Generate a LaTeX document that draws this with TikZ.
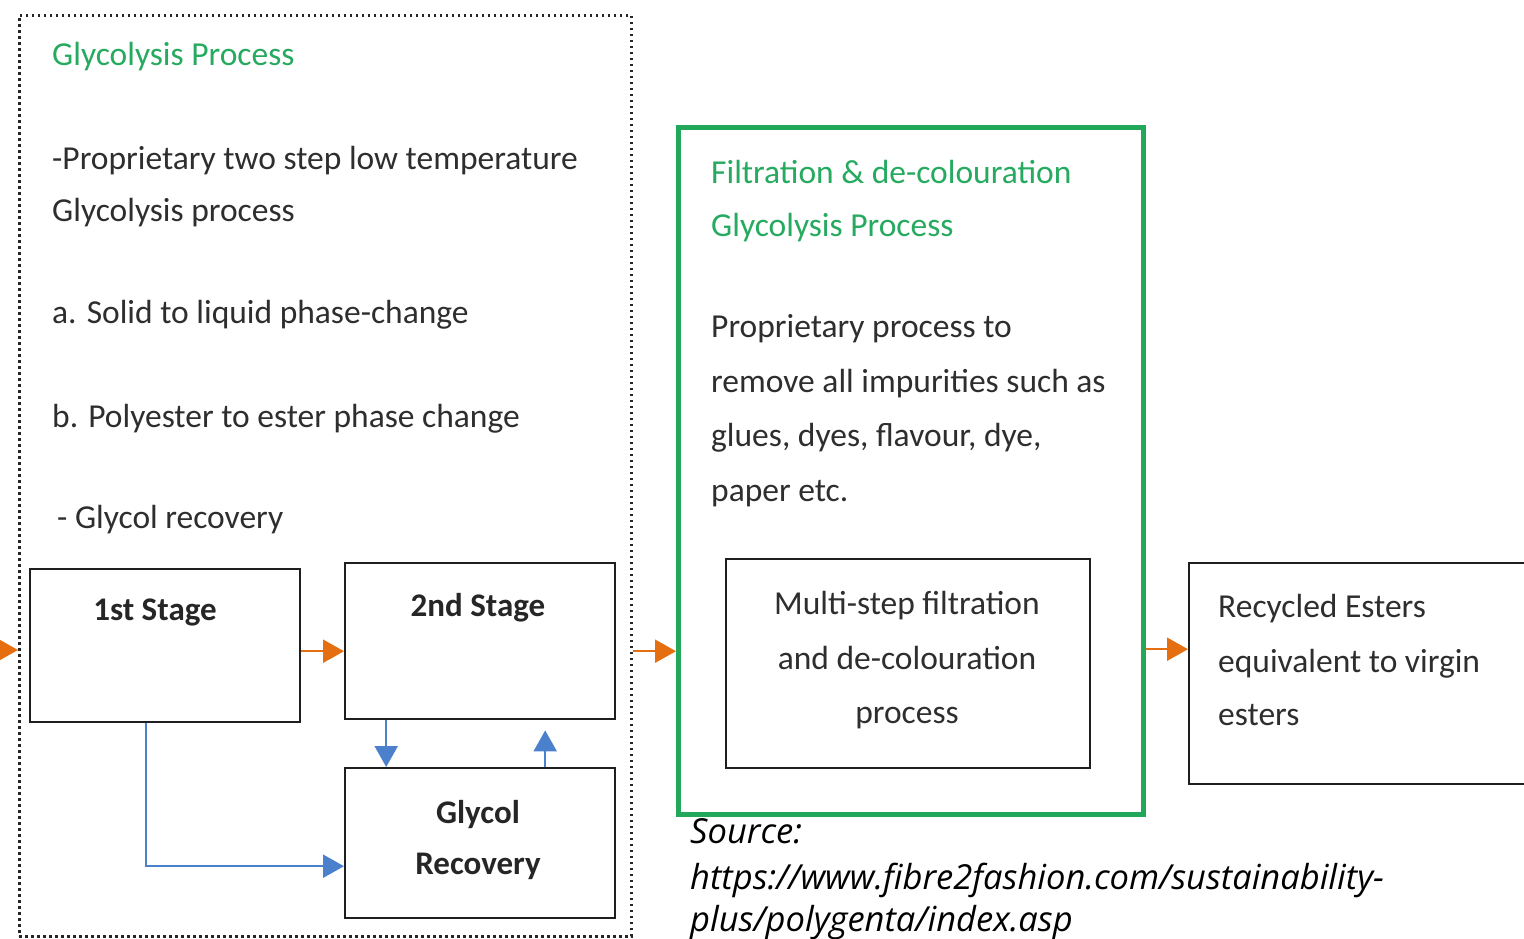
\documentclass[tikz,border=0pt]{standalone}
\usepackage{fontspec}
\setmainfont{Carlito}
\newfontfamily\srcfont{Open Sans}
\usetikzlibrary{arrows.meta,calc}
\definecolor{hgreen}{RGB}{38,170,95}
\definecolor{bgreen}{RGB}{34,168,90}
\definecolor{oarrow}{RGB}{228,110,16}
\definecolor{barrow}{RGB}{74,128,204}
\begin{document}
\begin{tikzpicture}[x=1pt,y=-1pt,
  box/.style={draw=black!88, line width=2.4pt, inner sep=0pt, anchor=north west},
  txt/.style={anchor=base west, inner sep=0pt, font=\fontsize{33.5}{40}\selectfont, text=black!82},
  ctxt/.style={anchor=base, inner sep=0pt, font=\fontsize{33.5}{40}\selectfont, text=black!82},
  btxt/.style={anchor=base, inner sep=0pt, font=\bfseries\fontsize{33}{40}\selectfont, text=black!85},
  head/.style={anchor=base west, inner sep=0pt, font=\fontsize{33.5}{40}\selectfont, text=hgreen},
  src/.style={anchor=base west, inner sep=0pt, font=\srcfont\itshape\fontsize{34.5}{40}\selectfont, text=black},
  oar/.style={draw=oarrow, line width=2.2pt, -{Triangle[length=21pt,width=23pt]}},
  bar/.style={draw=barrow, line width=2.2pt, -{Triangle[length=21pt,width=23pt]}}
]
\useasboundingbox (0,0) rectangle (1524,939);
\fill[white] (0,0) rectangle (1524,939);

% dotted outer box
\node[draw=black!85, line width=2.6pt, dash pattern=on 2.6pt off 3.4pt, inner sep=0pt,
      minimum width=612pt, minimum height=921pt, anchor=north west] (glyc) at (18,14) {};

% left panel texts
\node[head] (h1) at (52,66) {Glycolysis Process};
\node[txt] (l1) at (52,170) {-Proprietary two step low temperature};
\node[txt] (l2) at (52,222) {Glycolysis process};
\node[txt] (l3) at (52,323) {a. Solid to liquid phase-change};
\node[txt] (l4) at (52,427) {b. Polyester to ester phase change};
\node[txt] (l5) at (57,528) {- Glycol recovery};

% stage boxes
\node[box, minimum width=270pt, minimum height=153pt] (s1) at (29,568) {};
\node[btxt] (s1t) at (155,620) {1st Stage};
\node[box, minimum width=270pt, minimum height=156pt] (s2) at (344,562) {};
\node[btxt] (s2t) at (478,616) {2nd Stage};
\node[box, minimum width=270pt, minimum height=150pt] (gr) at (344,767) {};
\node[btxt] (grt1) at (478,823) {Glycol};
\node[btxt] (grt2) at (478,874) {Recovery};

% green box
\node[draw=bgreen, line width=5pt, inner sep=0pt, minimum width=465pt, minimum height=687pt,
      anchor=north west] (fb) at (676,125) {};
\node[head] (h2) at (711,183) {Filtration \& de-colouration};
\node[head] (h3) at (711,236) {Glycolysis Process};
\node[txt] (r1) at (711,337) {Proprietary process to};
\node[txt] (r2) at (711,392) {remove all impurities such as};
\node[txt] (r3) at (711,446) {glues, dyes, flavour, dye,};
\node[txt] (r4) at (711,501) {paper etc.};
\node[box, minimum width=364pt, minimum height=209pt] (ms) at (725,558) {};
\node[ctxt] (ms1) at (907,614) {Multi-step filtration};
\node[ctxt] (ms2) at (907,669) {and de-colouration};
\node[ctxt] (ms3) at (907,723) {process};

% recycled box
\node[box, minimum width=345pt, minimum height=221pt] (re) at (1188,562) {};
\node[txt] (re1) at (1218,617) {Recycled Esters};
\node[txt] (re2) at (1218,672) {equivalent to virgin};
\node[txt] (re3) at (1218,725) {esters};

% source
\node[src] (so1) at (690,843) {Source:};
\node[src] (so2) at (690,889) {https://www.fibre2fashion.com/sustainability-};
\node[src] (so3) at (690,931) {plus/polygenta/index.asp};

% orange arrows
\coordinate (in) at (0,650);
\draw[oar] (in) -- (in -| glyc.west);
\draw[oar] ([yshift=-5.5pt]s1.east) -- ([yshift=-5.5pt]s1.east -| s2.west);
\draw[oar] ([yshift=-10pt]glyc.east |- s2.east) -- ([yshift=-10pt]fb.west |- s2.east);
\draw[oar] ([yshift=-8pt]fb.east |- s2.east) -- ([yshift=-8pt]re.west |- s2.east);

% blue arrows
\draw[bar] ([xshift=-94pt]s2.south) -- ([xshift=-94pt]gr.north);
\draw[bar] ([xshift=65pt]gr.north) -- ([xshift=65pt,yshift=-10pt]s2.south);
\draw[bar] ([xshift=-19pt]s1.south) |- ([yshift=-23pt]gr.west);
\end{tikzpicture}
\end{document}
